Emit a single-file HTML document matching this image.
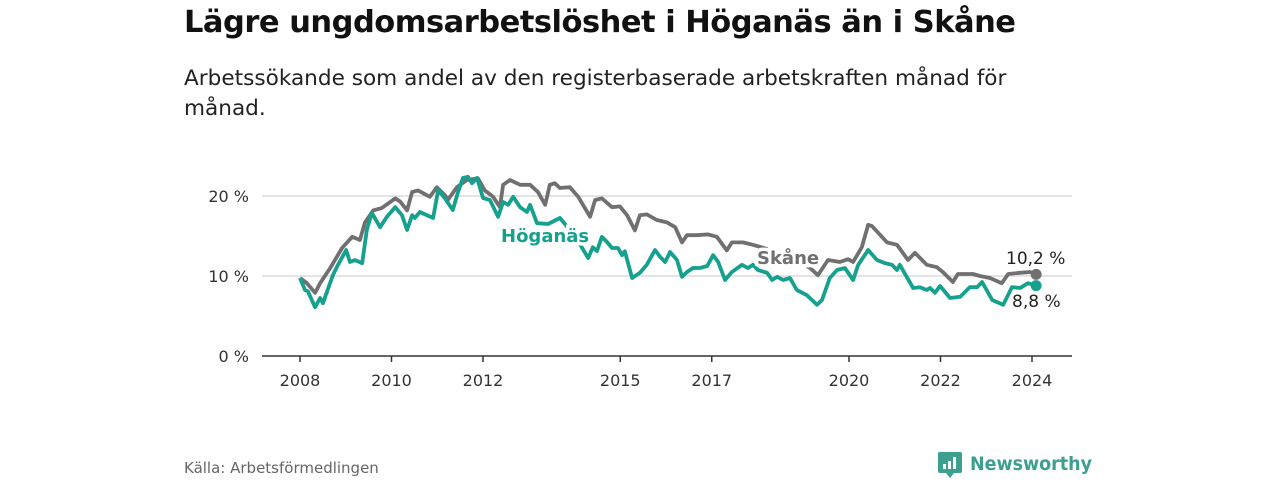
<!DOCTYPE html>
<html><head><meta charset="utf-8">
<style>
body{margin:0;background:#fff;width:1280px;height:480px;overflow:hidden;font-family:"Liberation Sans","DejaVu Sans",sans-serif;}
#title{position:absolute;left:184px;top:5px;font-size:30.5px;font-weight:bold;color:#111;font-family:"DejaVu Sans","Liberation Sans",sans-serif;letter-spacing:-0.5px}
#sub{position:absolute;left:184px;top:64px;width:850px;font-size:21.6px;line-height:30px;color:#222;font-family:"DejaVu Sans","Liberation Sans",sans-serif;}
#src{position:absolute;left:184px;top:459px;font-size:15px;color:#666;font-family:"DejaVu Sans",sans-serif}
#logo{position:absolute;left:938px;top:449px;}
</style></head><body>
<div id="title">Lägre ungdomsarbetslöshet i Höganäs än i Skåne</div>
<div id="sub">Arbetssökande som andel av den registerbaserade arbetskraften månad för månad.</div>
<svg id="chart" width="1280" height="480" style="position:absolute;left:0;top:0"></svg>
<div id="src">Källa: Arbetsförmedlingen</div>
<div id="logo">
<svg width="170" height="32"><rect x="0" y="3" width="24" height="21" rx="2" fill="#3d9f8f"/><path d="M8 24 L12 29 L16 24Z" fill="#3d9f8f"/>
<rect x="5" y="15" width="3" height="5" fill="#fff"/><rect x="10" y="12" width="3" height="8" fill="#fff"/><rect x="15" y="8" width="3" height="12" fill="#fff"/>
<text x="32" y="21" font-family="DejaVu Sans, Liberation Sans, sans-serif" font-size="19" font-weight="bold" fill="#3d9f8f" textLength="122" lengthAdjust="spacingAndGlyphs">Newsworthy</text></svg></div>
<script>
const skaneYears=[2008.00,2008.15,2008.33,2008.44,2008.66,2008.92,2009.14,2009.31,2009.42,2009.60,2009.79,2010.08,2010.19,2010.34,2010.45,2010.58,2010.84,2010.99,2011.17,2011.23,2011.43,2011.65,2011.89,2012.04,2012.22,2012.37,2012.44,2012.59,2012.81,2013.03,2013.20,2013.36,2013.46,2013.57,2013.68,2013.90,2014.08,2014.34,2014.45,2014.60,2014.82,2014.99,2015.15,2015.32,2015.43,2015.58,2015.80,2016.02,2016.20,2016.35,2016.46,2016.68,2016.92,2017.11,2017.33,2017.44,2017.68,2017.90,2018.14,2018.60,2018.99,2019.15,2019.32,2019.54,2019.80,2019.98,2020.09,2020.28,2020.42,2020.50,2020.83,2021.05,2021.29,2021.44,2021.70,2021.92,2022.05,2022.27,2022.38,2022.71,2022.86,2023.08,2023.34,2023.48,2023.74,2023.96,2024.09];
const skaneValues=[9.75,9.1,7.9,9.1,11,13.5,14.9,14.5,16.7,18.2,18.5,19.7,19.3,18.2,20.5,20.7,19.9,21.1,20.1,19.5,21.1,22,22.2,20.7,19.9,18.6,21.4,22,21.4,21.4,20.5,18.9,21.4,21.6,21,21.1,19.9,17.4,19.5,19.7,18.6,18.7,17.6,15.7,17.6,17.7,17,16.7,16.1,14.2,15.1,15.1,15.2,14.9,13.2,14.2,14.2,13.9,13.5,12.5,11.5,11,10.1,12,11.75,12.1,11.75,13.6,16.4,16.25,14.2,13.9,12,12.9,11.4,11.1,10.5,9.25,10.25,10.25,10,9.75,9.1,10.25,10.4,10.5,10.2];
const hogYears=[2008.00,2008.11,2008.17,2008.33,2008.44,2008.50,2008.72,2008.83,2009.01,2009.09,2009.20,2009.36,2009.46,2009.57,2009.75,2009.90,2010.08,2010.23,2010.34,2010.45,2010.51,2010.62,2010.91,2011.02,2011.17,2011.34,2011.45,2011.56,2011.67,2011.76,2011.87,2012.00,2012.15,2012.33,2012.44,2012.55,2012.66,2012.81,2012.96,2013.03,2013.18,2013.42,2013.68,2014.01,2014.30,2014.40,2014.49,2014.60,2014.71,2014.82,2014.95,2015.04,2015.10,2015.26,2015.43,2015.58,2015.76,2015.87,2015.98,2016.09,2016.24,2016.35,2016.46,2016.59,2016.74,2016.90,2017.03,2017.14,2017.29,2017.44,2017.66,2017.79,2017.90,2018.01,2018.21,2018.32,2018.43,2018.56,2018.71,2018.86,2019.08,2019.30,2019.41,2019.58,2019.74,2019.91,2020.09,2020.20,2020.42,2020.61,2020.79,2020.94,2021.05,2021.11,2021.40,2021.55,2021.70,2021.77,2021.88,2021.99,2022.21,2022.43,2022.64,2022.80,2022.91,2023.13,2023.37,2023.56,2023.74,2023.91,2024.09];
const hogValues=[9.75,8.25,8.1,6.1,7.25,6.6,10.1,11.4,13.25,11.75,12,11.6,15.75,17.9,16.1,17.4,18.6,17.6,15.75,17.6,17.25,18,17.25,20.75,19.7,18.25,20.4,22.25,22.4,21.6,22.25,19.75,19.5,17.4,19.25,18.9,19.9,18.6,18,18.9,16.6,16.5,17.25,15,12.25,13.6,13.1,14.9,14.25,13.5,13.5,12.6,13.1,9.75,10.4,11.4,13.25,12.4,11.75,13,12,9.9,10.5,11,11,11.25,12.6,11.75,9.5,10.5,11.4,11,11.4,10.75,10.4,9.5,9.9,9.5,9.75,8.25,7.6,6.4,7,9.75,10.75,11,9.5,11.4,13.25,12,11.6,11.4,10.75,11.4,8.5,8.6,8.25,8.5,7.9,8.75,7.25,7.4,8.6,8.6,9.25,7,6.4,8.6,8.5,9.1,8.8];
const yTicks=[0,10,20];
const xTicks=[2008,2010,2012,2015,2017,2020,2022,2024];

const NS='http://www.w3.org/2000/svg';
const svg=document.getElementById('chart');
const X=t=>300+(t-2008)*45.75;
const Y=v=>356-v*8;
function mk(tag,attrs,parent){const e=document.createElementNS(NS,tag);for(const k in attrs)e.setAttribute(k,attrs[k]);(parent||svg).appendChild(e);return e;}
yTicks.forEach(v=>{
  if(v>0){const g=mk('line',{x1:262,x2:1072,y1:Y(v),y2:Y(v),stroke:'#dcdcdc','stroke-width':1.5});
  
  }
  const t=mk('text',{x:249,y:Y(v)+6,'text-anchor':'end','font-size':16,fill:'#333','font-family':'DejaVu Sans, sans-serif'});
  t.textContent=v+' %';
  
  
});
const ax=mk('line',{x1:262,x2:1072,y1:356,y2:356,stroke:'#333','stroke-width':1.5});


xTicks.forEach(yr=>{
  mk('line',{x1:X(yr),x2:X(yr),y1:356,y2:362,stroke:'#333','stroke-width':1.5});
  const t=mk('text',{x:X(yr),y:386,'text-anchor':'middle','font-size':16,fill:'#333','font-family':'DejaVu Sans, sans-serif'});
  t.textContent=yr;
  
  
});
function line(xs,vs,color,name){
  const d=xs.map((t,i)=>(i?'L':'M')+X(t).toFixed(1)+' '+Y(vs[i]).toFixed(1)).join(' ');
  const p=mk('path',{d:d,fill:'none',stroke:color,'stroke-width':3.8,'stroke-linejoin':'round'});
  
  
  const n=xs.length-1;
  const c=mk('circle',{cx:X(xs[n]),cy:Y(vs[n]),r:5.5,fill:color});
  
  
}
line(skaneYears,skaneValues,'#707070','skane-line');
line(hogYears,hogValues,'#16a08e','hoganas-line');
function lbl(x,y,txt,color,bold,name,anchor){
  const t=mk('text',{x:x,y:y,'font-size':bold?18:17,'font-weight':bold?'bold':'normal',fill:color,stroke:'#fff','stroke-width':bold?7:5,'paint-order':'stroke','text-anchor':anchor||'start','font-family':'DejaVu Sans, sans-serif'});
  t.textContent=txt;
  
  
}
lbl(501,242,'Höganäs','#16a08e',true,'hoganas-label');
lbl(757,264,'Skåne','#707070',true,'skane-label');
lbl(1006,264,'10,2 %','#222',false,'skane-end-value');
lbl(1012,307,'8,8 %','#222',false,'hoganas-end-value');
</script>
</body></html>
